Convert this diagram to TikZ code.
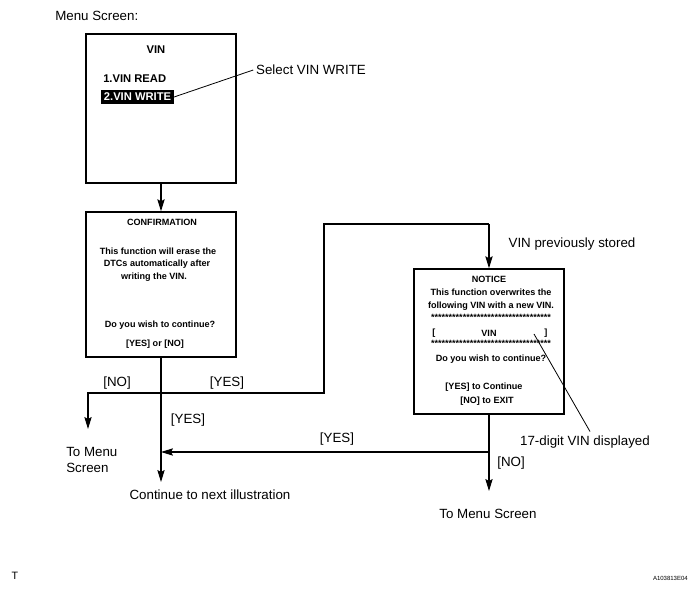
\documentclass[tikz,border=0pt]{standalone}
\usepackage{fontspec}
\setmainfont{Liberation Sans}
\usetikzlibrary{arrows.meta,calc}
\begin{document}
\begin{tikzpicture}[x=0.75pt,y=-0.75pt,
  screen/.style={draw,line width=1.1pt,minimum width=112.5pt,inner sep=0pt},
  conn/.style={line width=0.8pt},
  arr/.style={conn,-{Stealth[length=9pt,width=5.5pt,inset=1.5pt]}},
  lbl/.style={font=\fontsize{10}{12}\selectfont,inner sep=0pt},
  btxt/.style={font=\fontsize{6.8}{8}\selectfont\bfseries,inner sep=0pt},
  mtxt/.style={font=\fontsize{8.4}{10}\selectfont\bfseries,inner sep=0pt},
  lead/.style={line width=0.6pt}]
\useasboundingbox (0,0) rectangle (694,595);
% boxes
\node[screen,minimum height=111.75pt] (menu) at (161,108.5) {};
\node[screen,minimum height=108.75pt] (conf) at (161,284.5) {};
\node[screen,minimum height=108.75pt] (notice) at (489,341.5) {};
% menu box text
\node[lbl,anchor=west] (mtitle) at (55,16) {Menu Screen:};
\node[mtxt] (vin) at (156,50) {VIN};
\node[mtxt,anchor=west] (read) at (103,79) {1.VIN READ};
\node[mtxt,anchor=west,fill=black,text=white,inner xsep=2pt,inner ysep=2.5pt] (write) at (101,97) {2.VIN WRITE};
\node[lbl] (sel) at (311,70) {Select VIN WRITE};
\draw[lead] ([xshift=-2pt]sel.west) -- (write.east);
% confirmation text
\node[btxt] (ct) at (162,222) {CONFIRMATION};
\node[btxt] (c1) at (158,251.5) {This function will erase the};
\node[btxt] (c2) at (157,264.5) {DTCs automatically after};
\node[btxt] (c3) at (154,277.5) {writing the VIN.};
\node[btxt] (c4) at (160,325) {Do you wish to continue?};
\node[btxt] (c5) at (155,344) {[YES] or [NO]};
% notice text
\node[btxt] (nt) at (489,279) {NOTICE};
\node[btxt] (n1) at (491,292.5) {This function overwrites the};
\node[btxt] (n2) at (491,306) {following VIN with a new VIN.};
\node[btxt] (s1) at (491,317) {**********************************};
\node[btxt] (lb) at (434,333) {[};
\node[btxt] (nv) at (489,333) {VIN};
\node[btxt] (rb) at (546,333) {]};
\node[btxt] (s2) at (491,343) {**********************************};
\node[btxt] (n3) at (491,359) {Do you wish to continue?};
\node[btxt] (n4) at (484,387) {[YES] to Continue};
\node[btxt] (n5) at (487,401) {[NO] to EXIT};
\node[lbl] (dig) at (585,442) {17-digit VIN displayed};
\coordinate (vintip) at (534,334);
\draw[lead] (vintip) -- ([xshift=3.75pt,yshift=3pt]dig.north);
% connectors
\draw[arr] (menu.south) -- (conf.north);
\coordinate (br) at (161,393);
\coordinate (nol) at (88,393);
\coordinate (tm1) at (88,429);
\coordinate (cont) at (161,482);
\coordinate (up) at (324,393);
\coordinate (upt) at (324,224);
\coordinate (nin) at (489,224);
\coordinate (tm2) at (489,491);
\coordinate (yj) at (489,452);
\coordinate (yend) at (161,452);
\draw[arr] (conf.south) -- (cont);
\draw[arr] (br) -- (nol) -- (tm1);
\draw[conn] (br) -- (up) -- (upt) -- (nin);
\draw[arr] (nin) -- (notice.north);
\draw[arr] (notice.south) -- (tm2);
\draw[arr] (yj) -- (yend);
% labels
\node[lbl] (l1) at (117,383) {[NO]};
\node[lbl] (l2) at (227,383) {[YES]};
\node[lbl] (l3) at (188,420) {[YES]};
\node[lbl] (l4) at (337,439) {[YES]};
\node[lbl] (l5) at (511,463) {[NO]};
\node[lbl] (vps) at (572,244) {VIN previously stored};
\node[lbl,anchor=west,align=left] (tms1) at (66,460) {To Menu\\Screen};
\node[lbl] (cti) at (210,495) {Continue to next illustration};
\node[lbl] (tms2) at (488,514) {To Menu Screen};
\node[font=\fontsize{8}{9}\selectfont,inner sep=0pt] (T) at (15,576) {T};
\node[font=\fontsize{4.5}{5}\selectfont,inner sep=0pt,anchor=east] (code) at (688,578) {A103813E04};
\end{tikzpicture}
\end{document}
